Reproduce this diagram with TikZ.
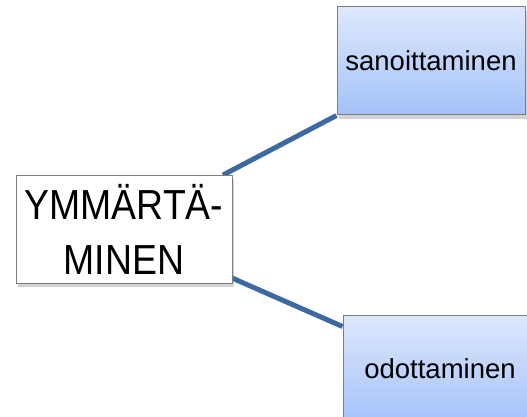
\documentclass[tikz,border=0pt]{standalone}
\usepackage{fontspec}
\setmainfont{Liberation Sans}
\newfontfamily\narrowfont[FakeStretch=0.89]{Liberation Sans}
\usepackage{tikz}
\usetikzlibrary{shadows}
\usetikzlibrary{calc}
\definecolor{linkblue}{RGB}{61,104,160}
\definecolor{boxtop}{RGB}{222,232,252}
\definecolor{boxbottom}{RGB}{163,194,250}
\definecolor{boxedge}{RGB}{125,125,125}
\tikzset{
    mainbox/.style={draw=boxedge, line width=1pt, fill=white, inner sep=0pt,
        minimum width=216pt, minimum height=108pt, align=center,
        font=\narrowfont\fontsize{42}{55}\selectfont,
        drop shadow={opacity=.35, shadow xshift=2pt, shadow yshift=-4pt}},
    leafbox/.style={draw=boxedge, line width=1pt, top color=boxtop, bottom color=boxbottom,
        inner sep=0pt, minimum width=188pt, minimum height=108pt,
        font=\fontsize{27.5}{33}\selectfont,
        drop shadow={opacity=.35, shadow xshift=2pt, shadow yshift=-4pt}},
    link/.style={draw=linkblue, line width=5pt},
}
\begin{document}
\begin{tikzpicture}[x=1pt, y=-1pt]
		\useasboundingbox (0,0) rectangle (527,417);
		\clip (0,0) rectangle (527,417);
		% branches
		\coordinate (upstart) at (223,175);
		\coordinate (downstart) at (232,278);
		\node[leafbox] (sano) at (431,61) {sanoittaminen};
		\node[leafbox, minimum width=194pt] (odo) at (440,369) {odottaminen};
		\draw[link] (upstart) -- (sano.south west);
		\draw[link] (downstart) -- ($(odo.north west)+(0,12)$);
		% root
		\node[mainbox] (ymm) at (124,229) {YMMÄRTÄ-\\MINEN};
	 \end{tikzpicture}
\end{document}
